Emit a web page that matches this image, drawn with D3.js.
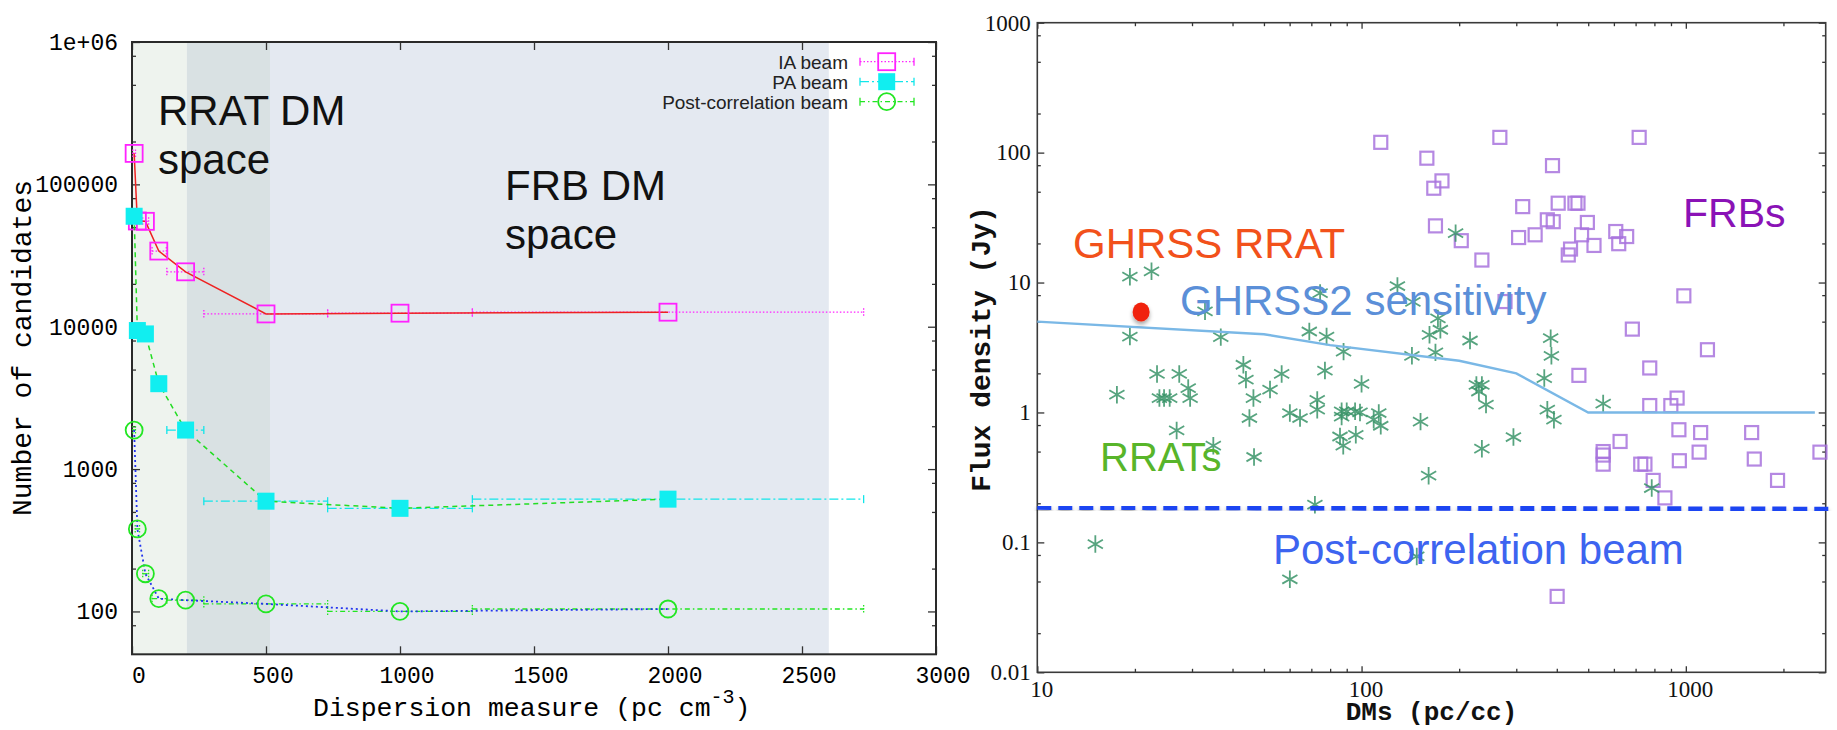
<!DOCTYPE html>
<html><head><meta charset="utf-8">
<script src="https://cdn.jsdelivr.net/npm/d3@7"></script>
<style>body{margin:0;background:#fff}svg{display:block}</style>
</head><body>
<svg id="c" width="1837" height="730"></svg>
<script>
// ---------------- LEFT PANEL DATA ----------------
const dmBins     = [8, 20, 50, 100, 200, 500, 1000, 2000];
const dmBinLow   = [3, 12, 40, 75, 130, 268, 730, 1270];
const dmBinHigh  = [13, 28, 62, 128, 268, 730, 1270, 2730];
const iaBeam     = [165000, 55300, 55000, 34000, 24300, 12300, 12450, 12650];
const paBeam     = [59700, 9400, 8900, 3980, 1880, 595, 530, 615];
const pcBeam     = [1880, 380, 184, 123, 120, 113, 100, 104];
const leftSeriesNames = ["IA beam", "PA beam", "Post-correlation beam"];
const leftXTicks = [0, 500, 1000, 1500, 2000, 2500, 3000];
const leftYTicks = [100, 1000, 10000, 100000, 1000000];
const leftYTickLabels = ["100", "1000", "10000", "100000", "1e+06"];
const leftYMinor = [80, 200, 500, 800, 2000, 5000, 8000, 20000, 50000, 80000, 200000, 500000, 800000];
const rratSpace = [0, 515];
const frbSpace  = [205, 2600];
const leftXTitle = "Dispersion measure (pc cm";
const leftYTitle = "Number of candidates";

// ---------------- RIGHT PANEL DATA ----------------
const rratPoints = [
 [19.3,11.1],[22.5,12.2],[32.9,6.0],[19.3,3.84],[36.8,3.8],[74.5,8.3],[69,4.2],[78,3.84],[88,2.94],[129,9.4],
 [195,24],[144,7.1],[172,5.3],[162,3.96],[175,4.33],[216,3.58],[383,3.73],[385,2.73],[143,2.73],[169,2.9],
 [226,1.63],[235,1.63],[230,1.45],[242,1.15],[366,1.84],[374,1.05],[392,0.88],[556,1.17],[152,0.85],[294,0.647],
 [235,0.526],[161,0.326],[785,0.262],[148,0.078],
 [17.6,1.37],[23.4,1.98],[27.4,1.98],[23.8,1.29],[24.6,1.29],[25.6,1.29],[29.2,1.54],[29.6,1.29],[26.9,0.727],[34.9,0.555],
 [43.2,2.33],[44,1.79],[46.4,1.29],[45.1,0.906],[46.6,0.454],[52.2,1.5],[56.7,1.98],[60.1,0.99],[64.6,0.906],[73,1.25],
 [73,1.05],[77.1,2.1],[100,1.66],[86.8,1.02],[90,1.02],[95.5,1.02],[98.9,1.0],[86.8,0.93],[85.8,0.653],[87.8,0.555],
 [96,0.673],[109,0.88],[113,0.99],[114.6,0.79],[15.1,0.097],[60.1,0.052],[71.8,0.195]
];
const frbPoints = [
 [114.6,120],[267,131],[718,131],[159,90.6],[388,79.4],[177,60.6],[167,53.2],[314,38.4],[404,40.8],[455,40.8],
 [465,40.8],[374,30.4],[390,29.4],[497,29],[169,27.3],[608,24.7],[657,22.6],[477,23.3],[343,23.3],[305,22.2],
 [203,21],[521,19.3],[621,19.9],[441,18.1],[434,16.3],[235,14.9],[986,7.9],[277,7.14],[684,4.38],[1166,3.04],
 [468,1.93],[774,2.2],[774,1.13],[899,1.13],[940,1.29],[952,0.736],[1111,0.70],[1596,0.70],[627,0.598],[556,0.50],
 [556,0.47],[556,0.40],[1099,0.495],[2592,0.495],[1626,0.438],[955,0.425],[726,0.40],[748,0.40],[793,0.30],[1918,0.30],
 [862,0.22],[401,0.0384]
];
const sensDM   = [10, 50, 80, 200, 300, 500, 2500];
const sensFlux = [5, 4, 3.3, 2.5, 2, 1, 1];
const pcLimitDM   = [10, 2800];
const pcLimitFlux = [0.186, 0.18];
const ghrssRRAT = [20.9, 5.94];
const rightXTicks = [10, 100, 1000];
const rightXTickLabels = ["10", "100", "1000"];
const rightXMinor = [20,30,40,50,60,70,80,90,200,300,400,500,600,700,800,900,2000];
const rightYTicks = [0.01, 0.1, 1, 10, 100, 1000];
const rightYTickLabels = ["0.01", "0.1", "1", "10", "100", "1000"];
const rightYMinor = [0.02,0.05,0.08,0.2,0.5,0.8,2,5,8,20,50,80,200,500,800];

// ---------------- DRAW ----------------
const svg = d3.select("#c");
const defs = svg.append("defs");
defs.append("filter").attr("id","sh").attr("x","-50%").attr("y","-50%").attr("width","200%").attr("height","200%")
  .append("feDropShadow").attr("dx",0).attr("dy",3).attr("stdDeviation",2.2)
  .attr("flood-color","#000").attr("flood-opacity",0.35);

const MONO = "'Liberation Mono','DejaVu Sans Mono',monospace";
const SANS = "'Liberation Sans',Arial,Helvetica,sans-serif";
const SERIF = "'Liberation Serif','Times New Roman',serif";

// ===== LEFT =====
const L = {l:132, r:936, t:42, b:654.3};
const x1 = d3.scaleLinear([0, 3000], [L.l, L.r]);
const y1 = d3.scaleLog([50, 1e6], [L.b, L.t]);
const gL = svg.append("g");

// shaded DM spaces
gL.append("rect").attr("x", x1(rratSpace[0])).attr("y", L.t).attr("width", x1(rratSpace[1]) - x1(rratSpace[0]))
  .attr("height", L.b - L.t).attr("fill", "#eef3ee");
gL.append("rect").attr("x", x1(frbSpace[0])).attr("y", L.t).attr("width", x1(frbSpace[1]) - x1(frbSpace[0]))
  .attr("height", L.b - L.t).attr("fill", "#e4e9f1");
gL.append("rect").attr("x", x1(frbSpace[0])).attr("y", L.t).attr("width", x1(rratSpace[1]) - x1(frbSpace[0]))
  .attr("height", L.b - L.t).attr("fill", "#d9e1e3");

// region labels
const bigText = (g, x, y, txt, col, fs) => g.append("text").attr("x", x).attr("y", y).text(txt)
  .attr("font-family", SANS).attr("font-size", fs).attr("fill", col);
bigText(gL, 158, 125, "RRAT DM", "#111", 42);
bigText(gL, 158, 174, "space", "#111", 42);
bigText(gL, 505, 200, "FRB DM", "#111", 42);
bigText(gL, 505, 249, "space", "#111", 42);

// axes ticks
function styleAxis(g){ g.select(".domain").remove(); g.selectAll("line").attr("stroke","#333").attr("stroke-width",1.3); return g; }
styleAxis(gL.append("g").attr("transform",`translate(0,${L.b})`)
  .call(d3.axisBottom(x1).tickValues(leftXTicks).tickSize(-8).tickSizeOuter(0).tickPadding(12.5).tickFormat(d3.format("d"))))
  .selectAll("text").attr("font-family", MONO).attr("font-size", 23).attr("fill","#000").attr("dx", 6.5);
styleAxis(gL.append("g").attr("transform",`translate(0,${L.t})`)
  .call(d3.axisTop(x1).tickValues(leftXTicks).tickSize(-8).tickSizeOuter(0).tickFormat("")));
styleAxis(gL.append("g").attr("transform",`translate(${L.l},0)`)
  .call(d3.axisLeft(y1).tickValues(leftYTicks).tickSize(-8).tickSizeOuter(0).tickPadding(14)
  .tickFormat((d,i)=>leftYTickLabels[i])))
  .selectAll("text").attr("font-family", MONO).attr("font-size", 23).attr("fill","#000");
styleAxis(gL.append("g").attr("transform",`translate(${L.l},0)`)
  .call(d3.axisLeft(y1).tickValues(leftYMinor).tickSize(-4).tickSizeOuter(0).tickFormat("")));
styleAxis(gL.append("g").attr("transform",`translate(${L.r},0)`)
  .call(d3.axisRight(y1).tickValues(leftYTicks).tickSize(-8).tickSizeOuter(0).tickFormat("")));
styleAxis(gL.append("g").attr("transform",`translate(${L.r},0)`)
  .call(d3.axisRight(y1).tickValues(leftYMinor).tickSize(-4).tickSizeOuter(0).tickFormat("")));
gL.append("rect").attr("x",L.l).attr("y",L.t).attr("width",L.r-L.l).attr("height",L.b-L.t)
  .attr("fill","none").attr("stroke","#2a2a2a").attr("stroke-width",2);

// axis titles
const xt = gL.append("text").attr("x", 313).attr("y", 716).attr("font-family", MONO).attr("font-size", 26.5).attr("fill","#000");
xt.append("tspan").text(leftXTitle);
xt.append("tspan").attr("font-size", 20).attr("dy", -13).text("-3");
xt.append("tspan").attr("dy", 13).text(")");
gL.append("text").attr("transform","translate(31,348) rotate(-90)").attr("text-anchor","middle")
  .attr("font-family", MONO).attr("font-size", 28).attr("fill","#000").text(leftYTitle);

// series
const series = [
  {name:leftSeriesNames[0], vals:iaBeam, line:"#ee2222", lineDash:null, lineW:1.5, err:"#ff22ff", errDash:"1.5,2", mark:"sq"},
  {name:leftSeriesNames[1], vals:paBeam, line:"#22dd22", lineDash:"5,4", lineW:1.5, err:"#11e6ea", errDash:"9,3,2,3", mark:"fsq"},
  {name:leftSeriesNames[2], vals:pcBeam, line:"#2233ee", lineDash:"2,3", lineW:1.8, err:"#22e622", errDash:"5,3,1.5,3", mark:"circ"}
];
function drawMark(g, type, cx, cy){
  if(type==="sq") g.append("rect").attr("x",cx-8.5).attr("y",cy-8.5).attr("width",17).attr("height",17)
     .attr("fill","none").attr("stroke","#ff22ff").attr("stroke-width",1.8);
  else if(type==="fsq") g.append("rect").attr("x",cx-8.5).attr("y",cy-8.5).attr("width",17).attr("height",17)
     .attr("fill","#11eef0");
  else g.append("circle").attr("cx",cx).attr("cy",cy).attr("r",8.5).attr("fill","none").attr("stroke","#22e622").attr("stroke-width",1.8);
}
const lineGen = d3.line().x((d,i)=>x1(dmBins[i])).y(d=>y1(d));
series.forEach(s=>{
  const g = gL.append("g");
  s.vals.forEach((v,i)=>{
    const yy = y1(v), a = x1(dmBinLow[i]), b = x1(dmBinHigh[i]);
    g.append("line").attr("x1",a).attr("x2",b).attr("y1",yy).attr("y2",yy)
      .attr("stroke",s.err).attr("stroke-width",1.3).attr("stroke-dasharray",s.errDash);
    [a,b].forEach(xx=>g.append("line").attr("x1",xx).attr("x2",xx).attr("y1",yy-4).attr("y2",yy+4)
      .attr("stroke",s.err).attr("stroke-width",1.3).attr("stroke-dasharray", s.mark==="fsq"?null:"1.5,1.5"));
  });
  g.append("path").attr("d", lineGen(s.vals)).attr("fill","none").attr("stroke",s.line)
    .attr("stroke-width",s.lineW).attr("stroke-dasharray",s.lineDash);
  s.vals.forEach((v,i)=>drawMark(g, s.mark, x1(dmBins[i]), y1(v)));
});

// legend
series.forEach((s,i)=>{
  const yy = 61.7 + i*20;
  const g = gL.append("g");
  g.append("text").attr("x",848).attr("y",yy).attr("dy","0.36em").attr("text-anchor","end")
    .attr("font-family",SANS).attr("font-size",19).attr("fill","#222").text(s.name);
  g.append("line").attr("x1",860).attr("x2",914).attr("y1",yy).attr("y2",yy)
    .attr("stroke",s.err).attr("stroke-width",1.3).attr("stroke-dasharray",s.errDash);
  [860,914].forEach(xx=>g.append("line").attr("x1",xx).attr("x2",xx).attr("y1",yy-4).attr("y2",yy+4)
    .attr("stroke",s.err).attr("stroke-width",1.3));
  drawMark(g, s.mark, 886.7, yy);
});

// ===== RIGHT =====
const R = {l:1037.3, r:1825.7, t:22.7, b:672.3};
const x2 = d3.scaleLog([10, 2700], [R.l, R.r]);
const y2 = d3.scaleLog([0.01, 1000], [R.b, R.t]);
const gR = svg.append("g");

styleAxis(gR.append("g").attr("transform",`translate(0,${R.b})`)
  .call(d3.axisBottom(x2).tickValues(rightXTicks).tickSize(-6).tickSizeOuter(0).tickPadding(8).tickFormat((d,i)=>rightXTickLabels[i])))
  .selectAll("text").attr("font-family",SERIF).attr("font-size",23).attr("fill","#111").attr("dx",4);
styleAxis(gR.append("g").attr("transform",`translate(0,${R.b})`)
  .call(d3.axisBottom(x2).tickValues(rightXMinor).tickSize(-3.5).tickSizeOuter(0).tickFormat("")));
styleAxis(gR.append("g").attr("transform",`translate(0,${R.t})`)
  .call(d3.axisTop(x2).tickValues(rightXTicks).tickSize(-6).tickSizeOuter(0).tickFormat("")));
styleAxis(gR.append("g").attr("transform",`translate(0,${R.t})`)
  .call(d3.axisTop(x2).tickValues(rightXMinor).tickSize(-3.5).tickSizeOuter(0).tickFormat("")));
styleAxis(gR.append("g").attr("transform",`translate(${R.l},0)`)
  .call(d3.axisLeft(y2).tickValues(rightYTicks).tickSize(-7).tickSizeOuter(0).tickPadding(6.5).tickFormat((d,i)=>rightYTickLabels[i])))
  .selectAll("text").attr("font-family",SERIF).attr("font-size",23).attr("fill","#111");
styleAxis(gR.append("g").attr("transform",`translate(${R.l},0)`)
  .call(d3.axisLeft(y2).tickValues(rightYMinor).tickSize(-3.5).tickSizeOuter(0).tickFormat("")));
styleAxis(gR.append("g").attr("transform",`translate(${R.r},0)`)
  .call(d3.axisRight(y2).tickValues(rightYTicks).tickSize(-7).tickSizeOuter(0).tickFormat("")));
styleAxis(gR.append("g").attr("transform",`translate(${R.r},0)`)
  .call(d3.axisRight(y2).tickValues(rightYMinor).tickSize(-3.5).tickSizeOuter(0).tickFormat("")));
gR.append("rect").attr("x",R.l).attr("y",R.t).attr("width",R.r-R.l).attr("height",R.b-R.t)
  .attr("fill","none").attr("stroke","#3a3a3a").attr("stroke-width",1.6);

gR.append("text").attr("x",(R.l+R.r)/2).attr("y",720).attr("text-anchor","middle")
  .attr("font-family",MONO).attr("font-weight","bold").attr("font-size",26).attr("fill","#111").text("DMs (pc/cc)");
gR.append("text").attr("transform","translate(990,349) rotate(-90)").attr("text-anchor","middle")
  .attr("font-family",MONO).attr("font-weight","bold").attr("font-size",28).attr("fill","#111").text("Flux density (Jy)");

// FRB squares
gR.append("g").selectAll("rect").data(frbPoints).join("rect")
  .attr("x",d=>x2(d[0])-6.5).attr("y",d=>y2(d[1])-6.5).attr("width",13).attr("height",13)
  .attr("fill","none").attr("stroke","#a873dd").attr("stroke-width",2.2).attr("stroke-opacity",0.85);
// RRAT asterisks
const ast = d3.symbol().type(d3.symbolAsterisk).size(215);
gR.append("g").selectAll("path").data(rratPoints).join("path")
  .attr("transform",d=>`translate(${x2(d[0])},${y2(d[1])})`).attr("d",ast())
  .attr("fill","none").attr("stroke","#3a9468").attr("stroke-width",1.8).attr("stroke-opacity",0.85);

// sensitivity line
gR.append("path").attr("d", d3.line().x((d,i)=>x2(sensDM[i])).y(d=>y2(d))(sensFlux))
  .attr("fill","none").attr("stroke","#7ab8e6").attr("stroke-width",2.4);
// post-correlation limit
gR.append("path").attr("d", d3.line().x((d,i)=>x2(pcLimitDM[i])).y(d=>y2(d))(pcLimitFlux))
  .attr("fill","none").attr("stroke","#1f45f2").attr("stroke-width",5).attr("stroke-dasharray","14,7")
  .attr("filter","url(#sh)");
// GHRSS RRAT
gR.append("ellipse").attr("cx",x2(ghrssRRAT[0])).attr("cy",y2(ghrssRRAT[1])).attr("rx",8.5).attr("ry",9.5)
  .attr("fill","#f0220a").attr("filter","url(#sh)");

bigText(gR, 1073, 258, "GHRSS RRAT", "#f2511b", 42);
bigText(gR, 1180, 315, "GHRSS2 sensitivity", "#5b8fd8", 42);
bigText(gR, 1683, 227, "FRBs", "#8a12b6", 41);
bigText(gR, 1100, 471, "RRATs", "#58b52a", 40);
bigText(gR, 1273, 564, "Post-correlation beam", "#3d64f0", 42);
</script>
</body></html>
